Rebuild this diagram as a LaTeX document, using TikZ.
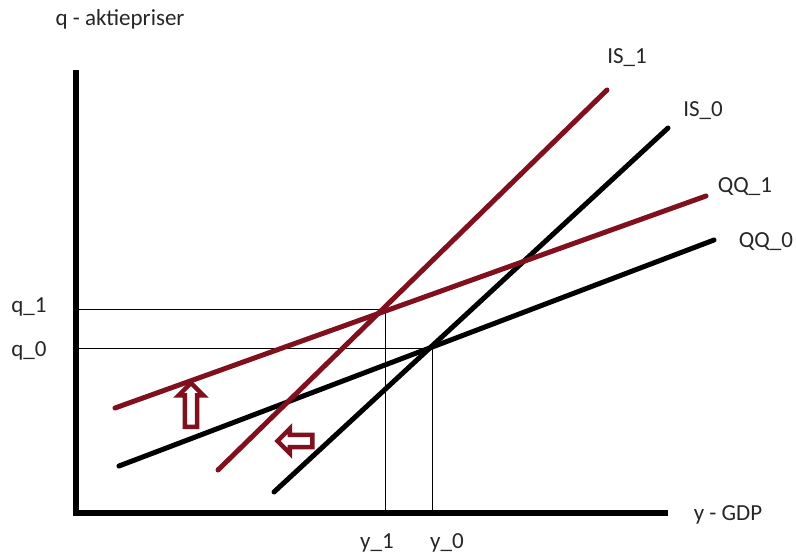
\documentclass[tikz,border=0pt]{standalone}
\usepackage{fontspec}
\setmainfont{Carlito}
\usetikzlibrary{shapes.arrows}
\definecolor{shiftred}{RGB}{128,16,30}
\begin{document}
\begin{tikzpicture}[x=1pt,y=-1pt,every node/.style={font=\fontsize{23}{26}\selectfont,text=black!85}]
    \tikzset{
      axis/.style={line width=6pt},
      old/.style={line width=5pt,black,line cap=round},
      new/.style={line width=5pt,shiftred,line cap=round},
      guide/.style={line width=0.9pt},
      shiftarrow/.style={single arrow,draw=shiftred,line width=4.5pt,fill=white,
        inner sep=2.5pt,single arrow head extend=5pt,minimum width=25pt}
    }
    \useasboundingbox (0,0) rectangle (796,556);

    \coordinate (top) at (76,70);
    \coordinate (orig) at (76,513);
    \coordinate (right) at (668,513);
    \draw[axis] (top) -- (orig) -- (right);

    \coordinate (is1a) at (218,470);
    \coordinate (is1b) at (607,90);
    \coordinate (is0a) at (274,492);
    \coordinate (is0b) at (668,128);
    \coordinate (qq1a) at (115,408);
    \coordinate (qq1b) at (706,196);
    \coordinate (qq0a) at (119,466);
    \coordinate (qq0b) at (714,240);
    \coordinate (e1) at (385,309);
    \coordinate (e0) at (432,348);

    \draw[guide] (orig |- e1) -- (e1) -- (e1 |- orig);
    \draw[guide] (orig |- e0) -- (e0) -- (e0 |- orig);

    \draw[old] (qq0a) -- (qq0b);
    \draw[old] (is0a) -- (is0b);
    \draw[new] (qq1a) -- (qq1b);
    \draw[new] (is1a) -- (is1b);

    \node[shiftarrow,shape border rotate=90,minimum height=44pt] (up) at (191,408) {};
    \node[shiftarrow,shape border rotate=180,minimum height=35pt] (left) at (298,441) {};

    \node (ylab) at (120,19) {q - aktiepriser};
    \node (xlab) at (728,515) {y - GDP};
    \node (q1) at (29,307) {q\_1};
    \node (q0) at (29,351) {q\_0};
    \node (y1) at (377,543) {y\_1};
    \node (y0) at (447,543) {y\_0};
    \node (is1) at (627,58) {IS\_1};
    \node (is0) at (703,111) {IS\_0};
    \node (qq1) at (745,187) {QQ\_1};
    \node (qq0) at (766,242) {QQ\_0};
  \end{tikzpicture}
\end{document}
